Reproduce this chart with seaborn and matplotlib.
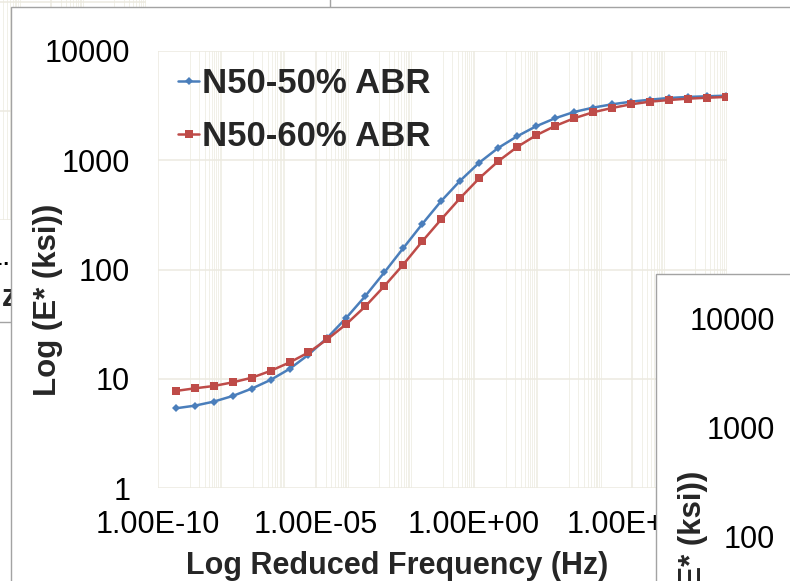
import numpy as np
import pandas as pd
import matplotlib
matplotlib.use("Agg")
import matplotlib.pyplot as plt
import matplotlib.ticker as mticker
from matplotlib.patches import Rectangle
import seaborn as sns

# ---------------- data ----------------
freq = [3.63e-10, 1.45e-9, 5.75e-9, 2.29e-8, 9.12e-8, 3.63e-7, 1.45e-6, 5.75e-6,
        2.29e-5, 9.12e-5, 3.63e-4, 1.45e-3, 5.75e-3, 2.29e-2, 9.12e-2, 0.363,
        1.45, 5.75, 22.9, 91.2, 363, 1450, 5750, 22900, 91200, 363000,
        1.45e6, 5.75e6, 2.29e7, 9.12e7]
e_50 = [5.36, 5.67, 6.17, 6.95, 8.11, 9.75, 12.3, 16.6, 23.8, 36.2, 57.2, 94.2,
        157, 261, 424, 650, 950, 1295, 1656, 2046, 2422, 2766, 3030, 3250, 3436,
        3583, 3715, 3797, 3850, 3900]
e_60 = [7.73, 8.17, 8.58, 9.27, 10.2, 11.8, 14.1, 17.4, 23.0, 31.7, 46.0, 70.6,
        111, 181, 288, 451, 684, 978, 1322, 1692, 2059, 2422, 2748, 3008, 3250,
        3436, 3559, 3660, 3733, 3797]
series = ["N50-50% ABR", "N50-60% ABR"]
x_major = [1e-10, 1e-5, 1e0, 1e5]
y_major = [1, 10, 100, 1000, 10000]

df = pd.DataFrame({
    "freq": freq * 2,
    "E": e_50 + e_60,
    "mix": [series[0]] * len(freq) + [series[1]] * len(freq),
})

# ---------------- style ----------------
sns.set_theme(style="white")
plt.rcParams["font.family"] = ["Liberation Sans", "DejaVu Sans"]

W, H = 790, 581
fig = plt.figure(figsize=(W / 100, H / 100), dpi=100)
fig.patch.set_facecolor("white")

palette = {series[0]: "#4A7EBB", series[1]: "#BE4B48"}
markers = {series[0]: "D", series[1]: "s"}
msizes = {"D": 4.1, "s": 6.3}
GRID = "#ECEAE0"
GRID_MINOR = "#F1F0E8"

minor_x = [k * 10.0 ** n for n in range(-9, 8, 2) for k in range(1, 11)]


def draw_chart(dx, dy, z):
    frame = Rectangle(((11 + dx) / W, 1 - (7 + dy + 583) / H), 900 / W, 583 / H,
                      transform=fig.transFigure, facecolor="white",
                      edgecolor="#A3A3A3", lw=1.0, zorder=z)
    fig.add_artist(frame)
    ax = fig.add_axes([(158 + dx) / W, 1 - (488 + dy) / H, 569 / W, 437 / H],
                      zorder=z + 1)
    ax.set_facecolor("white")
    sns.lineplot(data=df, x="freq", y="E", hue="mix", style="mix",
                 markers=markers, dashes=False, palette=palette, ax=ax,
                 lw=1.8, markeredgewidth=0, sort=False)
    for ln in ax.lines:
        m = ln.get_marker()
        if m in msizes:
            ln.set_markersize(msizes[m])
    ax.set_xscale("log")
    ax.set_yscale("log")
    ax.set_xlim(1e-10, 1e8)
    ax.set_ylim(1, 1e4)
    ax.xaxis.set_major_locator(mticker.FixedLocator(x_major))
    ax.xaxis.set_minor_locator(mticker.FixedLocator(minor_x))
    ax.xaxis.set_minor_formatter(mticker.NullFormatter())
    ax.xaxis.set_major_formatter(mticker.FuncFormatter(lambda v, p: f"{v:.2E}"))
    ax.yaxis.set_major_locator(mticker.FixedLocator(y_major))
    ax.yaxis.set_minor_locator(mticker.NullLocator())
    ax.yaxis.set_major_formatter(mticker.FuncFormatter(lambda v, p: f"{v:g}"))
    ax.set_axisbelow(True)
    ax.grid(which="major", color=GRID, lw=1.1)
    ax.grid(which="minor", axis="x", color=GRID_MINOR, lw=0.7)
    for s in ax.spines.values():
        s.set_visible(False)
    ax.tick_params(axis="x", which="major", length=3.6, width=1,
                   labelsize=22, pad=12, colors="black")
    ax.tick_params(axis="x", which="major", color=GRID)
    ax.tick_params(axis="x", which="minor", length=0)
    ax.tick_params(axis="y", length=0, labelsize=22, pad=20, colors="black")
    ax.set_xlabel("Log Reduced Frequency (Hz)", fontsize=22, fontweight="bold")
    ax.set_ylabel("Log (E* (ksi))", fontsize=22.5, fontweight="bold")
    ax.xaxis.set_label_coords(0.42, -0.144)
    ax.yaxis.set_label_coords(-0.167, 0.43)
    handles, labels = ax.get_legend_handles_labels()
    leg = ax.legend(handles, labels, loc="upper left",
                    bbox_to_anchor=(0.035, 0.963), frameon=False,
                    borderpad=0, borderaxespad=0, handlelength=0.62,
                    handletextpad=0.08, labelspacing=0.58,
                    prop={"size": 25, "weight": "bold",
                          "family": ["Liberation Sans", "DejaVu Sans"]})
    for h in leg.legend_handles:
        m = h.get_marker()
        if m in msizes:
            h.set_markersize(msizes[m])
        h.set_linewidth(1.8)
    return ax


# chart partly hidden behind, main chart, and chart overlapping at bottom right
draw_chart(-581, -268, 1)
draw_chart(0, 0, 3)
draw_chart(645, 267, 5)

fig.savefig("out.png", dpi=100)
